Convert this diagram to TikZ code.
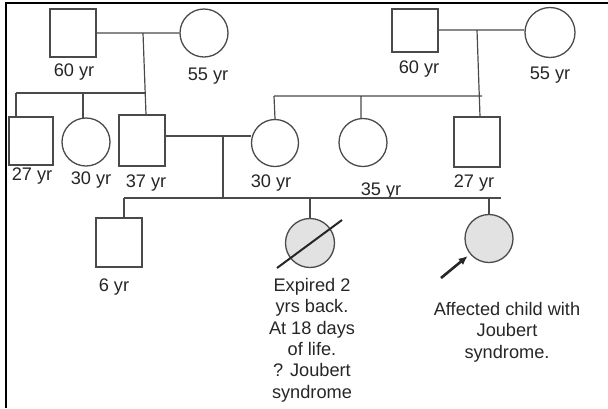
\documentclass[tikz,border=0pt]{standalone}
\usepackage{fontspec}
\setmainfont{Liberation Sans}
\usetikzlibrary{arrows.meta}

\definecolor{pedline}{HTML}{4A4A4A}
\definecolor{pedfill}{HTML}{E2E2E2}

\tikzset{
  male/.style={draw=pedline, line width=1.3pt, minimum width=46pt, minimum height=48pt, inner sep=0pt},
  female/.style={circle, draw=pedline, line width=1.3pt, minimum size=48pt, inner sep=0pt},
  affected/.style={fill=pedfill},
  lbl/.style={anchor=base, inner sep=0pt, text=black!85, font=\fontsize{18.2}{21.3}\selectfont, align=center},
  link/.style={draw=pedline, line width=1.2pt}
}

\begin{document}
\begin{tikzpicture}[x=1pt,y=-1pt]
            		\useasboundingbox (0,0) rectangle (608,408);
            		\draw [line width=2pt] (6,408) -- (6,3) -- (608,3);

            		% left grandparents
            		\node (gfa) at (73,33) [male] {};
            		\node (tgfa) at (74,76) [lbl] {60 yr};
            		\node (gma) at (204,33) [female] {};
            		\node (tgma) at (208,80) [lbl] {55 yr};
            		% right grandparents
            		\node (gfb) at (415,30.5) [male, minimum height=43pt] {};
            		\node (tgfb) at (419,73) [lbl] {60 yr};
            		\node (gmb) at (550,32.5) [female, minimum size=50pt] {};
            		\node (tgmb) at (550,79) [lbl] {55 yr};

            		% second generation
            		\node (ua) at (31,141) [male, minimum width=44pt] {};
            		\node (tua) at (32,180) [lbl] {27 yr};
            		\node (aa) at (86,142) [female] {};
            		\node (taa) at (91,184) [lbl] {30 yr};
            		\node (fa) at (142,140.5) [male, minimum height=51pt] {};
            		\node (tfa) at (146,187) [lbl] {37 yr};
            		\node (mo) at (275,143) [female, minimum size=47pt] {};
            		\node (tmo) at (271,187) [lbl] {30 yr};
            		\node (ab) at (363,142.5) [female] {};
            		\node (tab) at (381,195) [lbl] {35 yr};
            		\node (ub) at (477,142) [male, minimum height=50pt] {};
            		\node (tub) at (474,187) [lbl] {27 yr};

            		% third generation
            		\node (so) at (119,242.5) [male, minimum height=49pt] {};
            		\node (tso) at (114,291) [lbl] {6 yr};
            		\node (de) at (310,243) [female, affected, minimum size=49pt] {};
            		\node (tde) at (312,398) [lbl] {Expired 2\\yrs back.\\At 18 days\\of life.\\? Joubert\\syndrome};
            		\node (pr) at (489,238.5) [female, affected] {};
            		\node (tpr) at (507,358) [lbl] {Affected child with\\Joubert\\syndrome.};

            		% marriages and lines of descent
            		\coordinate (ma) at (143,33);
            		\coordinate (sa) at (145,93);
            		\coordinate (sal) at (16,93);
            		\coordinate (mb) at (477,30);
            		\coordinate (sb) at (482,96);
            		\coordinate (sbl) at (274,96);
            		\coordinate (mc) at (223,136);
            		\coordinate (sc) at (223,198);
            		\coordinate (scl) at (124,198);
            		\coordinate (scr) at (501,198);

            		\draw [link] (gfa.east) -- (gma.west) (ma) -- (fa.north -| 146,0);
            		\draw [link] (sal) -- (sa) (sal) -- (sal |- ua.north) (83,93) -- (83,118);
            		\draw [link] (gfb.east |- mb) -- (gmb.west |- mb) (mb) -- (ub.north -| 480,0);
            		\draw [link] (sbl) -- (sb) (sbl) -- (mo.north) (361,96) -- (ab.north -| 361,0);
            		\draw [link] (fa.east |- mc) -- (mo.west |- mc) (mc) -- (sc);
            		\draw [link] (scl) -- (scr) (scl) -- (so.north -| scl) (310,198) -- (de.north) (489,198) -- (pr.north);

            		% deceased and proband
            		\coordinate (dla) at (277,268);
            		\coordinate (dlb) at (342,220);
            		\draw [line width=2pt, black!85] (dla) -- (dlb);
            		\coordinate (arr) at (441,278);
            		\draw [line width=2.6pt, black!85, -{Latex[length=9pt,width=8pt]}, shorten >=3pt] (arr) -- (pr);
        		\end{tikzpicture}
\end{document}
